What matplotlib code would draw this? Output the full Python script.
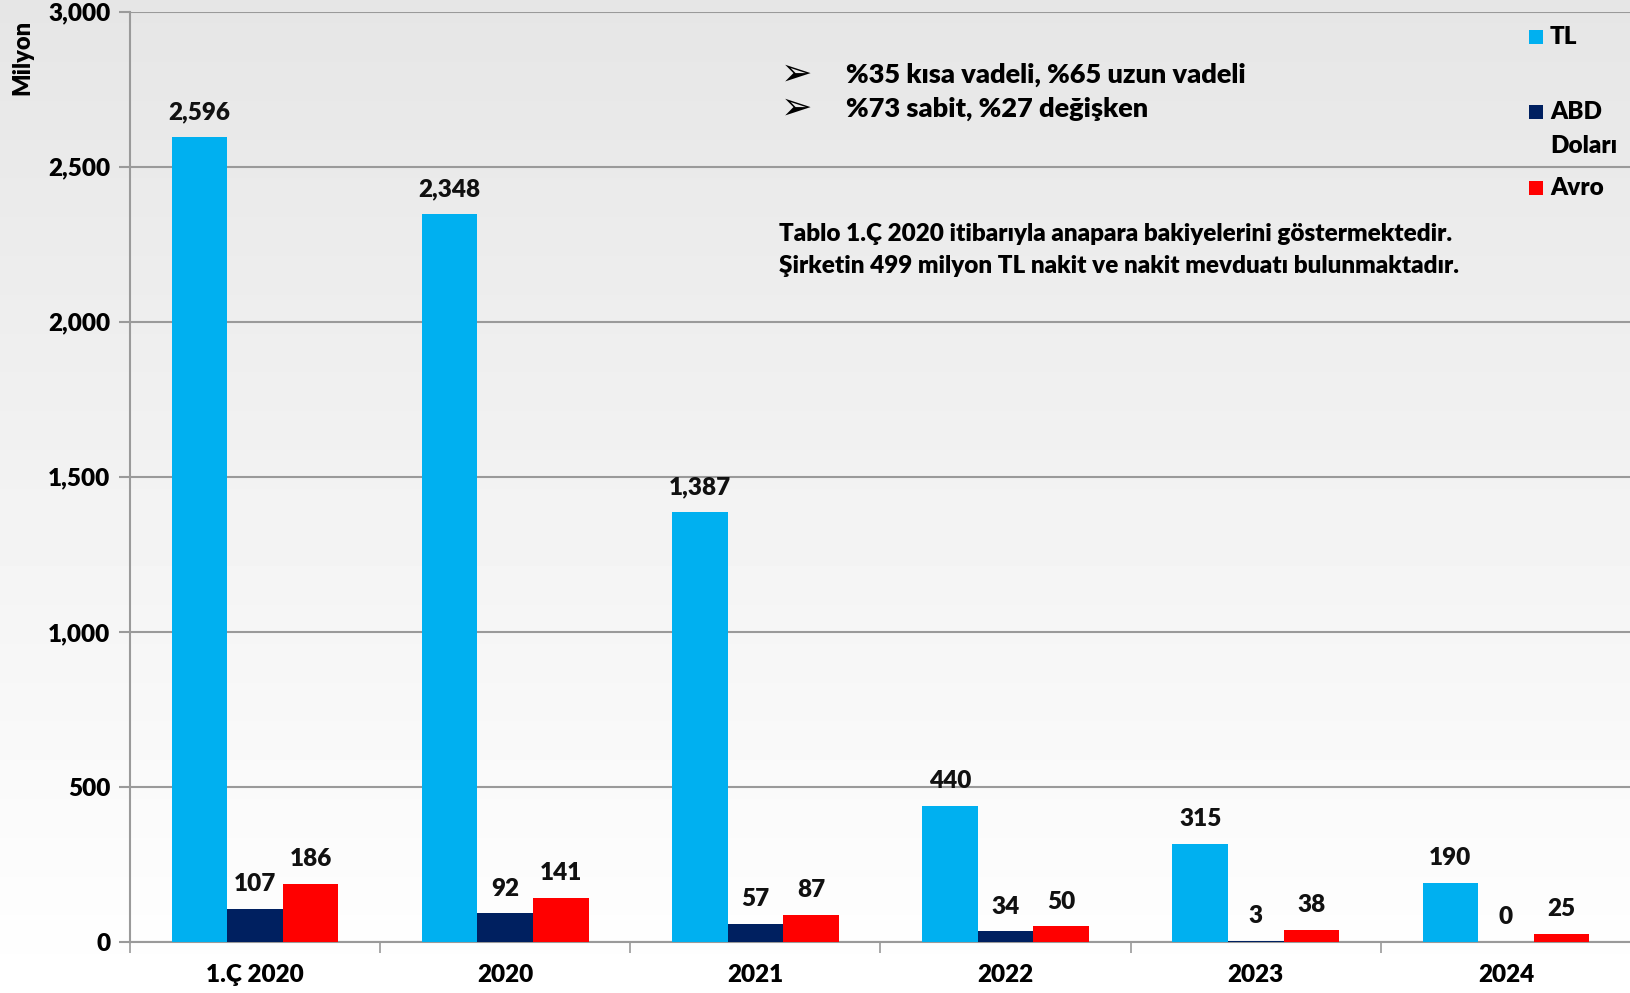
import matplotlib
matplotlib.use("Agg")
import matplotlib.pyplot as plt
import numpy as np
from matplotlib.patches import Rectangle

categories = ["1.Ç 2020", "2020", "2021", "2022", "2023", "2024"]
tl = [2596, 2348, 1387, 440, 315, 190]
usd = [107, 92, 57, 34, 3, 0]
eur = [186, 141, 87, 50, 38, 25]
series_names = ["TL", "ABD\nDoları", "Avro"]
colors = ["#00B0F0", "#002060", "#FF0000"]

FONT = ["Lato", "DejaVu Sans"]
WEIGHT = 'heavy'
plt.rcParams['font.family'] = FONT
plt.rcParams['font.weight'] = WEIGHT

W, H = 1631, 993
fig = plt.figure(figsize=(W/100, H/100), dpi=100)

# gradient background
bg = fig.add_axes([0, 0, 1, 1], zorder=-10)
grad = np.linspace(0.90, 1.0, 256).reshape(-1, 1)
bg.imshow(grad, aspect='auto', cmap='gray', vmin=0, vmax=1, extent=[0, 1, 0, 1], origin='upper')
bg.axis('off')

ax = fig.add_axes([130/W, 1-942/H, 1-130/W, (942-11.5)/H])
ax.patch.set_alpha(0)

x = np.arange(len(categories))
w = 0.222
series = [tl, usd, eur]
for i, (vals, c) in enumerate(zip(series, colors)):
    bars = ax.bar(x + (i-1)*w, vals, width=w, color=c, zorder=3)
    ax.bar_label(bars, labels=[f"{v:,}" for v in vals], padding=10,
                 fontsize=17.5, fontweight=WEIGHT, color='#111111')

ax.set_xlim(-0.5, len(categories)-0.5)
ax.set_ylim(0, 3000)
ax.set_yticks(np.arange(0, 3001, 500))
ax.set_yticklabels([f"{v:,}" for v in range(0, 3001, 500)], fontsize=17.5, fontweight=WEIGHT)
ax.yaxis.grid(True, color='#9a9a9a', linewidth=1.5, zorder=0)
ax.set_axisbelow(True)
ax.tick_params(axis='y', length=8, width=1.5, color='#9a9a9a', pad=6)

ax.set_xticks(np.arange(-0.5, len(categories)), minor=False)
ax.set_xticklabels([])
ax.set_xticks(x, minor=True)
ax.set_xticklabels(categories, minor=True, fontsize=17.5, fontweight=WEIGHT)
ax.tick_params(axis='x', which='major', length=8, width=1.2, color='#9a9a9a')
ax.tick_params(axis='x', which='minor', length=0, pad=16)

for s in ['top', 'right']:
    ax.spines[s].set_visible(False)
for s in ['left', 'bottom']:
    ax.spines[s].set_color('#9a9a9a')
    ax.spines[s].set_linewidth(1.5)

fig.text(22/W, 1-57/H, "Milyon", rotation=90, ha='center', va='center',
         fontsize=17, fontweight=WEIGHT)

# annotations
for yy, txt in [(75, "%35 kısa vadeli, %65 uzun vadeli"), (109, "%73 sabit, %27 değişken")]:
    fig.text(797/W, 1-yy/H, "➢", ha='center', va='center', fontsize=27,
             family=["DejaVu Sans"], fontweight='bold')
    fig.text(846/W, 1-yy/H, txt, ha='left', va='center', fontsize=19.5, fontweight=WEIGHT)
fig.text(779/W, 1-234/H, "Tablo 1.Ç 2020 itibarıyla anapara bakiyelerini göstermektedir.",
         ha='left', va='center', fontsize=17.5, fontweight=WEIGHT)
fig.text(779/W, 1-266/H, "Şirketin 499 milyon TL nakit ve nakit mevduatı bulunmaktadır.",
         ha='left', va='center', fontsize=17.5, fontweight=WEIGHT)

# legend (manual)
leg_y = [37.5, 112, 188]
for c, name, yy in zip(colors, series_names, leg_y):
    fig.add_artist(Rectangle(((1529)/W, 1-(yy+7)/H), 14/W, 14/H, facecolor=c,
                             edgecolor='none', transform=fig.transFigure))
    lines = name.split("\n")
    for k, ln in enumerate(lines):
        fig.text(1550/W, 1-(yy + k*34)/H, ln, ha='left', va='center',
                 fontsize=17.5, fontweight=WEIGHT)

fig.savefig("out.png", dpi=100)
